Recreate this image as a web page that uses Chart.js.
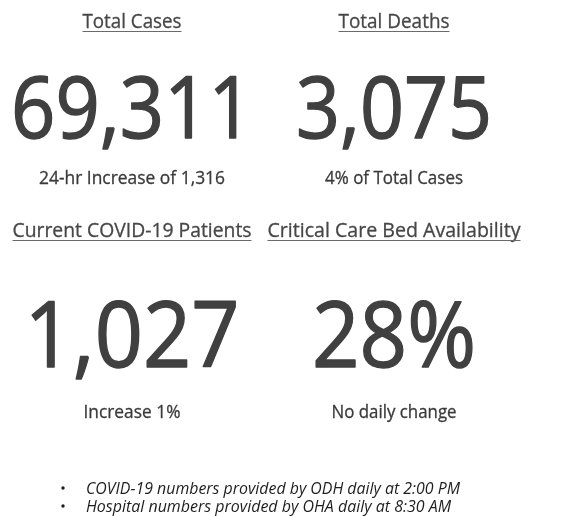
<!DOCTYPE html>
<html lang="en">
<head>
  <meta charset="UTF-8" />
  <title>COVID-19 Dashboard</title>
  <script src="https://cdn.jsdelivr.net/npm/chart.js"></script>
  <style>
    html, body {
      margin: 0;
      padding: 0;
      background: #ffffff;
    }
    #board {
      display: block;
    }
  </style>
</head>
<body>
  <canvas id="board" width="562" height="516"></canvas>

  <script>
    // tile data
    const titles = ['Total Cases', 'Total Deaths', 'Current COVID-19 Patients', 'Critical Care Bed Availability'];
    const values = ['69,311', '3,075', '1,027', '28%'];
    const notes = ['24-hr Increase of 1,316', '4% of Total Cases', 'Increase 1%', 'No daily change'];
    const footnotes = ['COVID-19 numbers provided by ODH daily at 2:00 PM', 'Hospital numbers provided by OHA daily at 8:30 AM'];

    // layout (px), per tile: column center, baselines and target widths
    const colX = [132, 394, 132, 394];
    const rowY = [
      { title: 28, value: 138, note: 184, valueSize: 86 },
      { title: 237, value: 367, note: 418, valueSize: 91 }
    ];
    const titleW = [99, 111, 239, 253];
    const valueW = [242, 196, 215, 164];
    const noteW = [186, 138, 97, 125];
    const FONT = '"Open Sans", "Noto Sans", sans-serif';

    // draws text centered at cx, squeezed to width w (Calibri-like narrowness)
    function squeezed(ctx, text, cx, y, w, font, extra) {
      ctx.font = font;
      const natural = ctx.measureText(text).width;
      const sx = w / natural;
      ctx.save();
      ctx.translate(cx, y);
      ctx.scale(sx, 1);
      ctx.textAlign = 'center';
      ctx.fillText(text, 0, 0);
      if (extra) {
        // thicken strokes a little, Calibri is heavier than Open Sans
        ctx.strokeStyle = ctx.fillStyle;
        ctx.lineWidth = extra;
        ctx.lineJoin = 'round';
        ctx.strokeText(text, 0, 0);
      }
      ctx.restore();
    }

    const dashboardPlugin = {
      id: 'dashboard',
      afterDraw(chart) {
        const ctx = chart.ctx;
        ctx.save();
        ctx.textBaseline = 'alphabetic';

        titles.forEach((t, i) => {
          const row = rowY[Math.floor(i / 2)];
          const cx = colX[i];

          ctx.fillStyle = '#474747';
          squeezed(ctx, t, cx, row.title, titleW[i], '400 20px ' + FONT, 0.3);
          // underline
          ctx.strokeStyle = '#6a6a6a';
          ctx.lineWidth = 1.2;
          ctx.beginPath();
          ctx.moveTo(cx - titleW[i] / 2, row.title + 3.5);
          ctx.lineTo(cx + titleW[i] / 2, row.title + 3.5);
          ctx.stroke();

          ctx.fillStyle = '#404040';
          squeezed(ctx, values[i], cx, row.value, valueW[i], '400 ' + row.valueSize + 'px ' + FONT, 1.4);

          ctx.fillStyle = '#3a3a3a';
          squeezed(ctx, notes[i], cx, row.note, noteW[i], '400 18px ' + FONT, 0.3);
        });

        // bullet notes
        const footY = [494, 512];
        const footW = [374, 365];
        footnotes.forEach((f, i) => {
          ctx.fillStyle = '#1e1e1e';
          ctx.beginPath();
          ctx.arc(63, footY[i] - 6, 1.7, 0, Math.PI * 2);
          ctx.fill();
          ctx.font = 'italic 400 17px ' + FONT;
          const natural = ctx.measureText(f).width;
          ctx.save();
          ctx.translate(86, footY[i]);
          ctx.scale(footW[i] / natural, 1);
          ctx.textAlign = 'left';
          ctx.fillText(f, 0, 0);
          ctx.restore();
        });

        ctx.restore();
      }
    };

    window.onload = function () {
      new Chart(document.getElementById('board').getContext('2d'), {
        type: 'bar',
        data: {
          labels: titles,
          datasets: [{ label: 'tiles', data: [], backgroundColor: 'transparent' }]
        },
        options: {
          responsive: false,
          animation: false,
          events: [],
          layout: { padding: 0 },
          plugins: {
            legend: { display: false },
            tooltip: { enabled: false },
            title: { display: false }
          },
          scales: {
            x: { display: false },
            y: { display: false }
          }
        },
        plugins: [dashboardPlugin]
      });
    };
  </script>
</body>
</html>
